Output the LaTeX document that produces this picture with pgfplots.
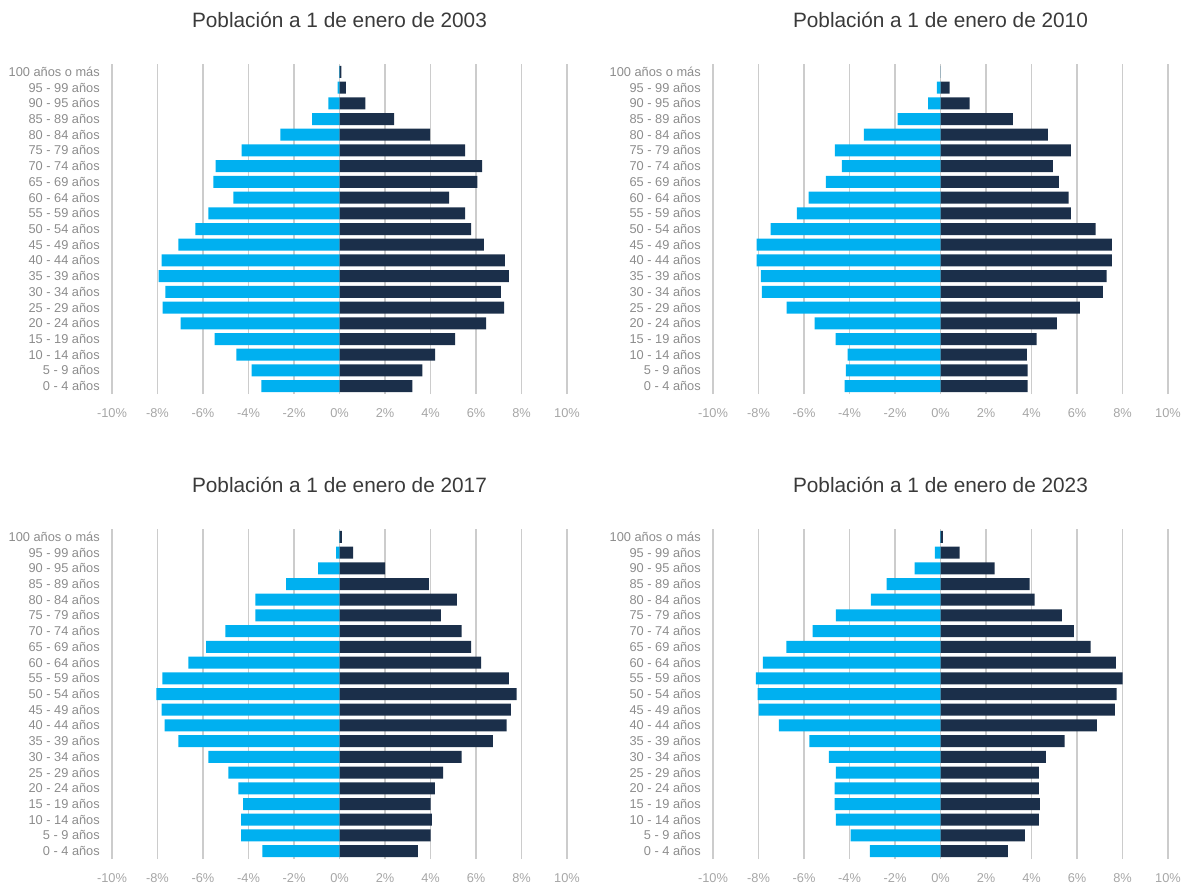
\documentclass[border=0pt]{standalone}
\usepackage{fontspec}
\setmainfont{Liberation Sans}
\usepackage{pgfplots}
\usepackage{pgfplotstable}
\pgfplotsset{compat=1.18}
\definecolor{lblue}{HTML}{00B0F0}
\definecolor{navy}{HTML}{1B2F4A}
\definecolor{txtgray}{HTML}{8C8C8C}
\definecolor{ticgray}{HTML}{A6A6A6}
\definecolor{ttl}{HTML}{3A3A3A}
\definecolor{gridc}{HTML}{CCCCCC}

\pgfplotstableread{
y l r
0 -3.43 3.20
1 -3.86 3.64
2 -4.53 4.20
3 -5.49 5.08
4 -6.98 6.44
5 -7.78 7.24
6 -7.65 7.09
7 -7.95 7.45
8 -7.82 7.27
9 -7.08 6.35
10 -6.33 5.78
11 -5.76 5.52
12 -4.66 4.82
13 -5.54 6.06
14 -5.45 6.27
15 -4.30 5.52
16 -2.60 3.98
17 -1.20 2.40
18 -0.49 1.14
19 -0.08 0.28
20 -0.02 0.08
}\tA
\pgfplotstableread{
y l r
0 -4.21 3.83
1 -4.16 3.83
2 -4.08 3.80
3 -4.61 4.23
4 -5.53 5.12
5 -6.76 6.13
6 -7.85 7.14
7 -7.90 7.30
8 -8.08 7.53
9 -8.08 7.53
10 -7.47 6.82
11 -6.31 5.73
12 -5.80 5.63
13 -5.04 5.20
14 -4.34 4.94
15 -4.64 5.73
16 -3.37 4.72
17 -1.88 3.18
18 -0.55 1.28
19 -0.16 0.40
20 0 0
}\tB
\pgfplotstableread{
y l r
0 -3.39 3.44
1 -4.32 4.01
2 -4.32 4.06
3 -4.24 4.01
4 -4.45 4.19
5 -4.89 4.55
6 -5.76 5.37
7 -7.08 6.74
8 -7.69 7.35
9 -7.82 7.53
10 -8.05 7.79
11 -7.79 7.44
12 -6.64 6.22
13 -5.86 5.78
14 -5.02 5.37
15 -3.70 4.46
16 -3.70 5.16
17 -2.35 3.93
18 -0.94 2.00
19 -0.15 0.60
20 -0.02 0.10
}\tC
\pgfplotstableread{
y l r
0 -3.11 2.96
1 -3.95 3.71
2 -4.60 4.32
3 -4.65 4.37
4 -4.65 4.32
5 -4.60 4.32
6 -4.91 4.63
7 -5.76 5.46
8 -7.11 6.87
9 -7.99 7.66
10 -8.04 7.74
11 -8.12 8.01
12 -7.81 7.71
13 -6.77 6.60
14 -5.62 5.86
15 -4.60 5.33
16 -3.06 4.14
17 -2.37 3.92
18 -1.14 2.38
19 -0.25 0.84
20 -0.02 0.10
}\tD

\pgfplotsset{pyr/.style={
  scale only axis, width=455pt, height=330pt, anchor=north west,
  xbar, bar width=12pt,
  xmin=-10, xmax=10, ymin=-0.5, ymax=20.5,
  axis line style={draw=none}, major tick length=0pt,
  xtick={-10,-8,...,10},
  xticklabels={-10\%,-8\%,-6\%,-4\%,-2\%,0\%,2\%,4\%,6\%,8\%,10\%},
  ytick={0,...,20},
  yticklabels={0 - 4 años,5 - 9 años,10 - 14 años,15 - 19 años,20 - 24 años,25 - 29 años,30 - 34 años,35 - 39 años,40 - 44 años,45 - 49 años,50 - 54 años,55 - 59 años,60 - 64 años,65 - 69 años,70 - 74 años,75 - 79 años,80 - 84 años,85 - 89 años,90 - 95 años,95 - 99 años,100 años o más},
  xmajorgrids, grid style={color=gridc, line width=1.5pt},
  tick label style={font=\fontsize{12.8}{14}\selectfont},
  xticklabel style={anchor=base, yshift=-23pt, text=ticgray},
  yticklabel style={anchor=east, xshift=-8.7pt, text=txtgray},
  title style={at={(0.5,1)}, anchor=base, yshift=31pt, font=\fontsize{20.8}{25}\selectfont, text=ttl},
}}

\begin{document}
\begin{tikzpicture}[x=1pt,y=1pt]
\useasboundingbox (0,0) rectangle (1190,-889);
\begin{axis}[pyr, at={(112pt,-64pt)}, title={Población a 1 de enero de 2003}]
\addplot[fill=lblue, draw=none, bar shift=0pt] table[x=l,y=y] {\tA};
\addplot[fill=navy, draw=none, bar shift=0pt] table[x=r,y=y] {\tA};
\end{axis}
\begin{axis}[pyr, at={(713pt,-64pt)}, title={Población a 1 de enero de 2010}]
\addplot[fill=lblue, draw=none, bar shift=0pt] table[x=l,y=y] {\tB};
\addplot[fill=navy, draw=none, bar shift=0pt] table[x=r,y=y] {\tB};
\end{axis}
\begin{axis}[pyr, at={(112pt,-529pt)}, title={Población a 1 de enero de 2017}]
\addplot[fill=lblue, draw=none, bar shift=0pt] table[x=l,y=y] {\tC};
\addplot[fill=navy, draw=none, bar shift=0pt] table[x=r,y=y] {\tC};
\end{axis}
\begin{axis}[pyr, at={(713pt,-529pt)}, title={Población a 1 de enero de 2023}]
\addplot[fill=lblue, draw=none, bar shift=0pt] table[x=l,y=y] {\tD};
\addplot[fill=navy, draw=none, bar shift=0pt] table[x=r,y=y] {\tD};
\end{axis}
\end{tikzpicture}
\end{document}
